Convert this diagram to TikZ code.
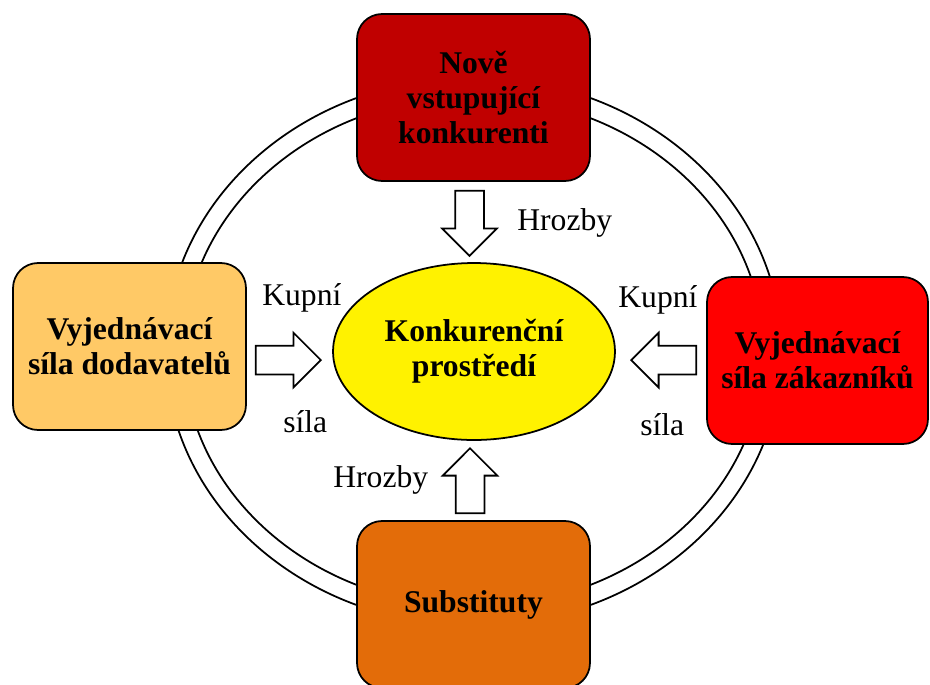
\documentclass[tikz,border=0pt]{standalone}
\usepackage{fontspec}
\setmainfont{Liberation Serif}
\usepackage{xcolor}
\usetikzlibrary{shapes.geometric,shapes.arrows,positioning}

\definecolor{novred}{HTML}{C00000}
\definecolor{dodorange}{HTML}{FFC966}
\definecolor{zakred}{HTML}{FF0000}
\definecolor{suborange}{HTML}{E36C09}

\begin{document}
\begin{tikzpicture}[x=0.02cm,y=-0.02cm,
  frc/.style={draw,line width=1pt,rounded corners=0.5cm,minimum width=4.66cm,minimum height=3.34cm,align=center,font=\fontsize{18}{20}\selectfont\bfseries,inner sep=2pt},
  env/.style={ellipse,draw,line width=1pt,fill=yellow,minimum width=5.64cm,minimum height=3.54cm,align=center,font=\fontsize{18}{20}\selectfont\bfseries,inner sep=0pt},
  barr/.style={single arrow,draw,line width=1pt,fill=white,minimum width=0pt,minimum height=1.3cm,inner xsep=0pt,inner ysep=0.27cm,single arrow head extend=0.26cm,anchor=tip},
  lab/.style={font=\fontsize{18}{21}\selectfont,anchor=base west,inner sep=0pt},
  rim/.style={line width=1pt}]
  \useasboundingbox[fill=white] (0,0) rectangle (930,684);
  % double ring behind the boxes
  \coordinate (ctr) at (473.5,351.5);
  \draw[rim] (ctr) ellipse [x radius=6.16cm,y radius=5.48cm];
  \draw[rim] (ctr) ellipse [x radius=5.8cm,y radius=5.1cm];
  % the five forces
  \node[frc,fill=novred] (nov) at (473.5,97.5) {Nově\\vstupující\\konkurenti};
  \node[frc,fill=dodorange] (dod) at (129.5,346.5) {Vyjednávací\\síla dodavatelů};
  \node[frc,fill=zakred,minimum width=4.42cm] (zak) at (817.5,360.5) {Vyjednávací\\síla zákazníků};
  \node[frc,fill=suborange] (sub) at (473.5,604.5) {Substituty};
  \node[env] (kon) at (474,351.5) {Konkurenční\\prostředí};
  % block arrows
  \node[barr,rotate=-90] (a1) at (469.5,257) {};
  \node[barr,rotate=90] (a2) at (470,447) {};
  \node[barr] (a3) at (322,360) {};
  \node[barr,rotate=180] (a4) at (630,360) {};
  \node[lab] (h1) at (517,230) {Hrozby};
  \node[lab] (h2) at (333,487) {Hrozby};
  \node[lab] (k1) at (262,305) {Kupní};
  \node[lab] (s1) at (283,432) {síla};
  \node[lab] (k2) at (618,307) {Kupní};
  \node[lab] (s2) at (640,435) {síla};
\end{tikzpicture}
\end{document}
